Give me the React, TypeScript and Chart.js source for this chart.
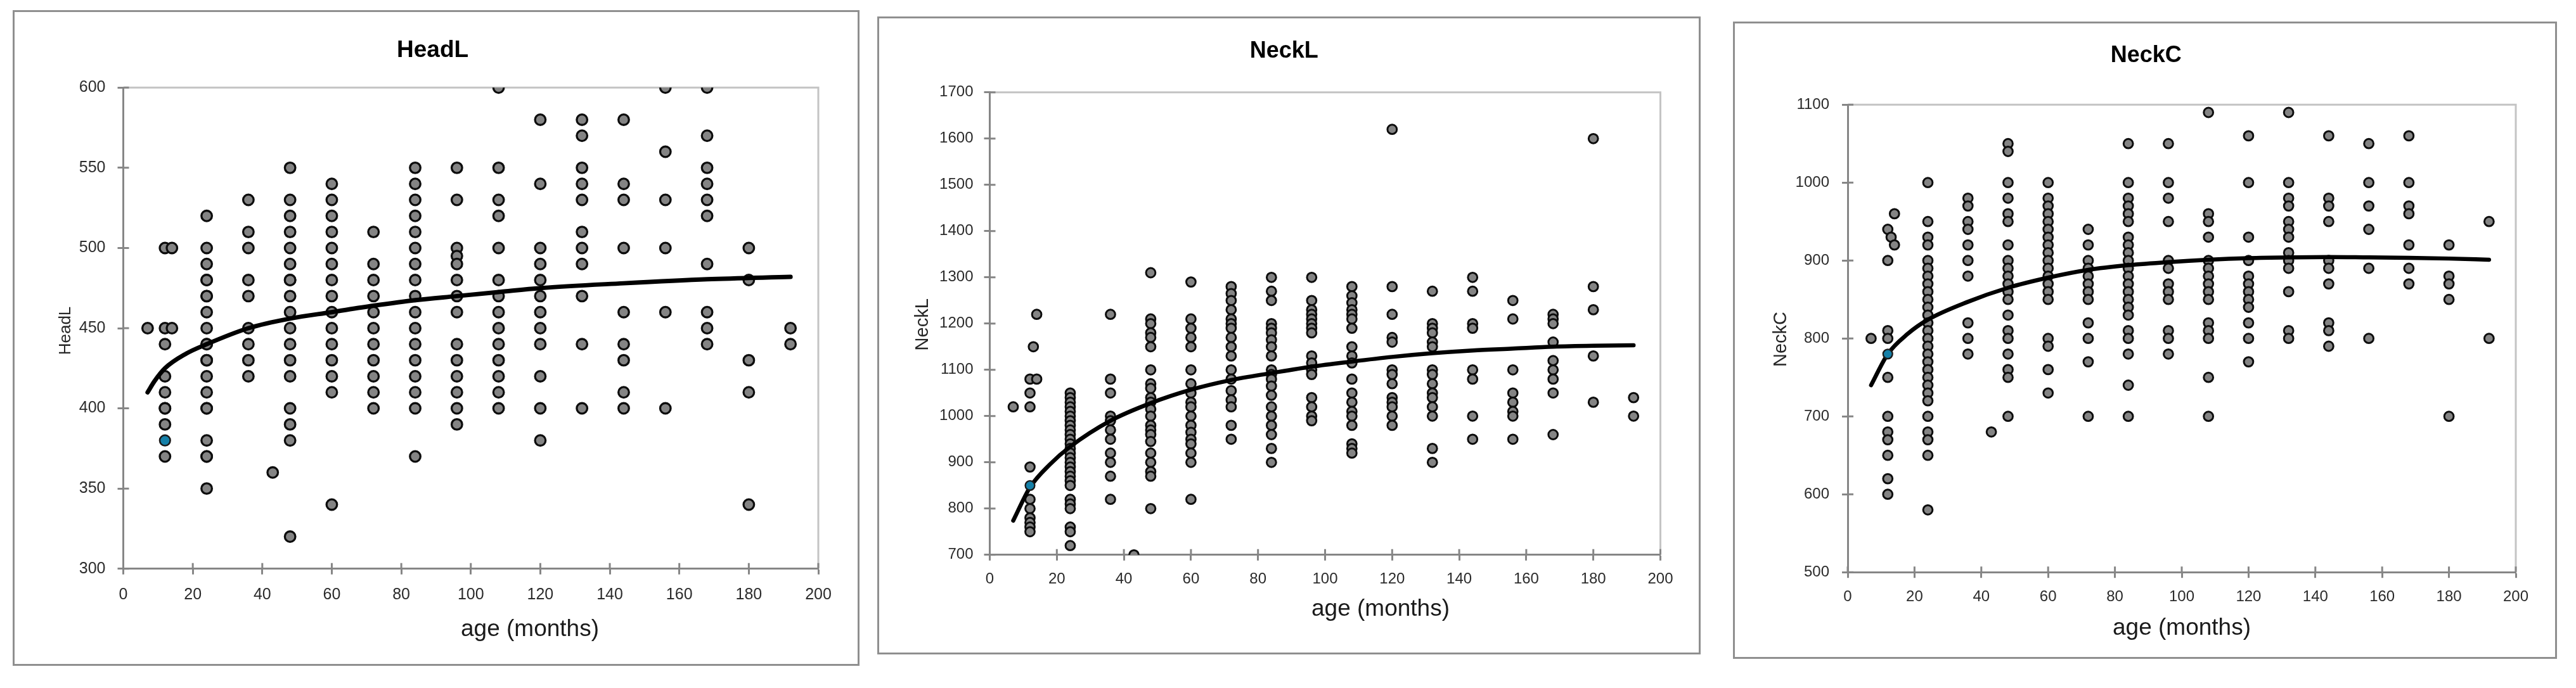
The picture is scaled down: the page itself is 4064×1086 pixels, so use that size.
import React, { useEffect, useRef } from 'react';
import { Chart, registerables } from 'chart.js';

Chart.register(...registerables);

const FONT = '"Liberation Sans", Arial, Helvetica, sans-serif';
const AXIS_GRAY = '#868686';

// ---------------- shared axis ----------------
const AGE_TICKS = [0, 20, 40, 60, 80, 100, 120, 140, 160, 180, 200];

// ---------------- HeadL ----------------
const HEADL_Y_TICKS = [300, 350, 400, 450, 500, 550, 600];
const HEADL_AGES = [7, 12, 14, 24, 36, 43, 48, 60, 72, 84, 96, 108, 120, 132, 144, 156, 168, 180, 192];
const HEADL_VALUES = [
  [450],
  [500, 450, 440, 420, 410, 400, 400, 390, 370],
  [500, 450],
  [520, 500, 490, 480, 480, 470, 470, 460, 450, 440, 440, 430, 430, 420, 410, 400, 400, 380, 370, 370, 350],
  [530, 510, 500, 480, 470, 450, 440, 430, 420],
  [360],
  [550, 530, 520, 510, 500, 490, 480, 480, 470, 460, 450, 440, 430, 420, 400, 390, 380, 320],
  [540, 530, 520, 510, 500, 490, 480, 470, 460, 450, 440, 430, 420, 410, 340],
  [510, 490, 480, 470, 460, 450, 440, 430, 420, 410, 400],
  [550, 540, 530, 520, 510, 500, 490, 480, 470, 460, 450, 440, 430, 420, 410, 400, 370],
  [550, 530, 500, 495, 490, 480, 470, 460, 440, 430, 420, 410, 400, 390],
  [600, 550, 530, 520, 500, 480, 470, 460, 450, 440, 430, 420, 410, 400],
  [580, 540, 500, 490, 480, 470, 460, 450, 440, 420, 400, 380],
  [580, 570, 550, 540, 530, 510, 500, 490, 470, 440, 400],
  [580, 540, 530, 500, 460, 440, 430, 410, 400],
  [600, 560, 530, 500, 460, 400],
  [600, 570, 550, 540, 530, 520, 490, 460, 450, 440],
  [500, 480, 430, 410, 340],
  [450, 440],
];
const HEADL_CURVE_AGES = [7, 9, 12, 18, 24, 36, 48, 60, 72, 84, 96, 108, 120, 144, 168, 192];
const HEADL_CURVE_VALUES = [410, 417, 425, 434, 440, 450, 456, 460, 464, 467.5, 470, 472.5, 475, 478, 480.5, 482];
const HEADL_HIGHLIGHT = [12, 380];

// ---------------- NeckL ----------------
const NECKL_Y_TICKS = [700, 800, 900, 1000, 1100, 1200, 1300, 1400, 1500, 1600, 1700];
const NECKL_AGES = [7, 12, 13, 14, 24, 36, 43, 48, 60, 72, 84, 96, 108, 120, 132, 144, 156, 168, 180, 192];
const NECKL_VALUES = [
  [1020],
  [1080, 1050, 1020, 890, 820, 800, 780, 770, 760, 750],
  [1150],
  [1220, 1080],
  [1050, 1040, 1030, 1020, 1010, 1000, 990, 980, 970, 960, 950, 940, 930, 920, 910, 900, 890, 880, 870, 860, 850, 820, 810, 800, 760, 750, 720],
  [1220, 1080, 1050, 1000, 990, 970, 950, 920, 900, 870, 820],
  [700],
  [1310, 1210, 1200, 1180, 1170, 1150, 1100, 1070, 1060, 1040, 1030, 1015, 1000, 980, 970, 960, 945, 920, 900, 880, 870, 800],
  [1290, 1210, 1190, 1170, 1150, 1100, 1070, 1050, 1030, 1020, 1000, 980, 965, 950, 940, 920, 900, 820],
  [1280, 1265, 1250, 1230, 1210, 1200, 1190, 1170, 1150, 1130, 1100, 1080, 1055, 1035, 1020, 980, 950],
  [1300, 1270, 1250, 1200, 1190, 1180, 1165, 1150, 1130, 1100, 1090, 1080, 1065, 1045, 1020, 1000, 980, 960, 930, 900],
  [1300, 1250, 1230, 1220, 1210, 1200, 1190, 1180, 1130, 1115, 1100, 1090, 1040, 1020, 1000, 990],
  [1280, 1260, 1245, 1230, 1220, 1210, 1190, 1150, 1130, 1115, 1080, 1050, 1030, 1010, 1000, 980, 940, 930, 920],
  [1620, 1280, 1220, 1170, 1160, 1100, 1090, 1070, 1040, 1030, 1020, 1000, 980],
  [1270, 1200, 1190, 1180, 1160, 1150, 1100, 1090, 1070, 1050, 1040, 1020, 1000, 930, 900],
  [1300, 1270, 1200, 1190, 1100, 1080, 1000, 950],
  [1250, 1210, 1100, 1050, 1030, 1010, 1000, 950],
  [1220, 1210, 1200, 1160, 1120, 1100, 1080, 1050, 960],
  [1600, 1280, 1230, 1130, 1030],
  [1040, 1000],
];
const NECKL_CURVE_AGES = [7, 12, 18, 24, 36, 48, 60, 72, 84, 96, 108, 120, 132, 144, 156, 168, 180, 192];
const NECKL_CURVE_VALUES = [774, 846, 896, 934, 990, 1028, 1057, 1078, 1093, 1107, 1118, 1128, 1136, 1142, 1146, 1150, 1152, 1153];
const NECKL_HIGHLIGHT = [12, 850];

// ---------------- NeckC ----------------
const NECKC_Y_TICKS = [500, 600, 700, 800, 900, 1000, 1100];
const NECKC_AGES = [7, 12, 13, 14, 24, 36, 43, 48, 60, 72, 84, 96, 108, 120, 132, 144, 156, 168, 180, 192];
const NECKC_VALUES = [
  [800],
  [940, 900, 810, 800, 750, 700, 680, 670, 650, 620, 600],
  [930],
  [960, 920],
  [1000, 950, 930, 920, 900, 890, 880, 870, 860, 850, 840, 830, 820, 810, 800, 790, 780, 770, 760, 750, 740, 730, 720, 700, 680, 670, 650, 580],
  [980, 970, 950, 940, 920, 900, 880, 820, 800, 780],
  [680],
  [1050, 1040, 1000, 980, 960, 950, 920, 900, 890, 880, 870, 860, 850, 830, 810, 800, 780, 760, 750, 700],
  [1000, 980, 970, 960, 950, 940, 930, 920, 910, 900, 890, 880, 870, 860, 850, 800, 790, 760, 730],
  [940, 920, 900, 890, 880, 870, 860, 850, 820, 800, 770, 700],
  [1050, 1000, 980, 970, 960, 950, 930, 920, 910, 900, 890, 880, 870, 860, 850, 840, 830, 810, 800, 780, 740, 700],
  [1050, 1000, 980, 950, 900, 890, 870, 860, 850, 810, 800, 780],
  [1090, 960, 950, 930, 900, 890, 880, 870, 860, 850, 820, 810, 800, 750, 700],
  [1060, 1000, 930, 900, 880, 870, 860, 850, 840, 820, 800, 770],
  [1090, 1000, 980, 970, 950, 940, 930, 910, 900, 890, 860, 810, 800],
  [1060, 980, 970, 950, 900, 890, 870, 820, 810, 790],
  [1050, 1000, 970, 940, 890, 800],
  [1060, 1000, 970, 960, 920, 890, 870],
  [920, 880, 870, 850, 700],
  [950, 800],
];
const NECKC_CURVE_AGES = [7, 12, 18, 24, 36, 48, 60, 72, 84, 96, 108, 120, 132, 144, 156, 168, 180, 192];
const NECKC_CURVE_VALUES = [740, 780, 806, 824, 847, 865, 878, 888, 894, 898, 901, 903, 904, 904.5, 904, 903.5, 902.5, 901];
const NECKC_HIGHLIGHT = [12, 780];

// ---------------- layout / style (page pixels) ----------------
type Pt = { x: number; y: number };
interface PanelSpec {
  name: string;
  title: string;
  yTitle: string;
  xTitle: string;
  ages: number[];
  values: number[][];
  curveAges: number[];
  curveValues: number[];
  highlight: number[];
  yTicks: number[];
  box: { left: number; top: number; width: number; height: number };
  plot: { left: number; top: number; right: number; bottom: number };
  titlePos: Pt;
  xTitlePos: Pt;
  yTitlePos: Pt;
  tickSize: number;
  yTickPad: number;
  xTickPad: number;
  titleSize: number;
  xTitleSize: number;
  yTitleSize: number;
  pointR: number;
  pointBW: number;
  lineW: number;
}

const BORDER = 3;

const PANELS: PanelSpec[] = [
  {
    name: 'headl', title: 'HeadL', yTitle: 'HeadL', xTitle: 'age (months)',
    ages: HEADL_AGES, values: HEADL_VALUES, curveAges: HEADL_CURVE_AGES, curveValues: HEADL_CURVE_VALUES,
    highlight: HEADL_HIGHLIGHT, yTicks: HEADL_Y_TICKS,
    box: { left: 20, top: 16, width: 1336, height: 1035 },
    plot: { left: 194.5, top: 138.3, right: 1291, bottom: 897.7 },
    titlePos: { x: 682.6, y: 77 }, xTitlePos: { x: 836, y: 994.4 }, yTitlePos: { x: 102, y: 522 },
    tickSize: 25, yTickPad: 19, xTickPad: 17, titleSize: 37, xTitleSize: 37, yTitleSize: 26,
    pointR: 8.3, pointBW: 3.3, lineW: 7,
  },
  {
    name: 'neckl', title: 'NeckL', yTitle: 'NeckL', xTitle: 'age (months)',
    ages: NECKL_AGES, values: NECKL_VALUES, curveAges: NECKL_CURVE_AGES, curveValues: NECKL_CURVE_VALUES,
    highlight: NECKL_HIGHLIGHT, yTicks: NECKL_Y_TICKS,
    box: { left: 1383.5, top: 26.2, width: 1299, height: 1007 },
    plot: { left: 1561, top: 146, right: 2619, bottom: 876 },
    titlePos: { x: 2025.2, y: 78.6 }, xTitlePos: { x: 2177.5, y: 962.6 }, yTitlePos: { x: 1453.3, y: 512.5 },
    tickSize: 24, yTickPad: 17, xTickPad: 15, titleSize: 36, xTitleSize: 37, yTitleSize: 29,
    pointR: 7.4, pointBW: 3, lineW: 6.5,
  },
  {
    name: 'neckc', title: 'NeckC', yTitle: 'NeckC', xTitle: 'age (months)',
    ages: NECKC_AGES, values: NECKC_VALUES, curveAges: NECKC_CURVE_AGES, curveValues: NECKC_CURVE_VALUES,
    highlight: NECKC_HIGHLIGHT, yTicks: NECKC_Y_TICKS,
    box: { left: 2734, top: 33.5, width: 1300, height: 1006 },
    plot: { left: 2915, top: 164.7, right: 3969, bottom: 902.7 },
    titlePos: { x: 3385.7, y: 84.8 }, xTitlePos: { x: 3442, y: 991.7 }, yTitlePos: { x: 2807.9, y: 535 },
    tickSize: 24, yTickPad: 20, xTickPad: 16, titleSize: 36, xTitleSize: 37, yTitleSize: 29,
    pointR: 7.4, pointBW: 3, lineW: 6.5,
  },
];

const decorPlugin = {
  id: 'decor',
  beforeDatasetsDraw(chart: any, _args: any, opts: any) {
    const { ctx, chartArea: a, scales } = chart;
    ctx.save();
    // light plot-area frame (top and right)
    ctx.strokeStyle = '#c4c4c4';
    ctx.lineWidth = 3;
    ctx.beginPath();
    ctx.moveTo(a.left + 1.5, a.top);
    ctx.lineTo(a.right, a.top);
    ctx.lineTo(a.right, a.bottom - 1.5);
    ctx.stroke();
    // inner halves of the crossing tick marks
    ctx.strokeStyle = AXIS_GRAY;
    ctx.lineWidth = 3;
    ctx.beginPath();
    scales.x.ticks.forEach((t: any) => {
      const px = scales.x.getPixelForValue(t.value);
      ctx.moveTo(px, a.bottom);
      ctx.lineTo(px, a.bottom - opts.tickIn);
    });
    scales.y.ticks.forEach((t: any) => {
      const py = scales.y.getPixelForValue(t.value);
      ctx.moveTo(a.left, py);
      ctx.lineTo(a.left + opts.tickIn, py);
    });
    ctx.stroke();
    ctx.restore();
  },
  afterDraw(chart: any, _args: any, opts: any) {
    const { ctx } = chart;
    ctx.save();
    ctx.textAlign = 'center';
    ctx.textBaseline = 'alphabetic';
    // chart title (cap-centred)
    ctx.fillStyle = '#000';
    ctx.font = `bold ${opts.titleSize}px ${FONT}`;
    ctx.fillText(opts.title, opts.titlePos.x, opts.titlePos.y + 0.358 * opts.titleSize);
    // x axis title
    ctx.fillStyle = '#1a1a1a';
    ctx.font = `${opts.xTitleSize}px ${FONT}`;
    ctx.fillText(opts.xTitle, opts.xTitlePos.x, opts.xTitlePos.y + 0.259 * opts.xTitleSize);
    // y axis title (rotated)
    ctx.fillStyle = '#262626';
    ctx.font = `${opts.yTitleSize}px ${FONT}`;
    ctx.translate(opts.yTitlePos.x + 0.36 * opts.yTitleSize, opts.yTitlePos.y);
    ctx.rotate(-Math.PI / 2);
    ctx.fillText(opts.yTitle, 0, 0);
    ctx.restore();
  },
};

const plainNumber = (v: any) => String(v);

function Panel({ spec }: { spec: PanelSpec }) {
  const ref = useRef<HTMLCanvasElement | null>(null);
  const cl = spec.box.left + BORDER;
  const ct = spec.box.top + BORDER;
  const cw = Math.round(spec.box.width - 2 * BORDER);
  const ch = Math.round(spec.box.height - 2 * BORDER);

  useEffect(() => {
    if (!ref.current) return;
    const plotL = spec.plot.left - cl;
    const plotT = spec.plot.top - ct;
    const plotR = spec.plot.right - cl;
    const plotB = spec.plot.bottom - ct;

    const points: Pt[] = [];
    spec.ages.forEach((age, i) => spec.values[i].forEach((v) => points.push({ x: age, y: v })));
    const curve: Pt[] = spec.curveAges.map((age, i) => ({ x: age, y: spec.curveValues[i] }));
    const yMin = spec.yTicks[0];
    const yMax = spec.yTicks[spec.yTicks.length - 1];
    const yStep = spec.yTicks[1] - spec.yTicks[0];

    const tickFont = { family: FONT, size: spec.tickSize };

    const chart = new Chart(ref.current, {
      type: 'scatter',
      data: {
        datasets: [
          {
            label: 'observations',
            data: points,
            pointRadius: spec.pointR,
            pointHoverRadius: spec.pointR,
            pointBackgroundColor: '#848484',
            pointBorderColor: '#0d0d0d',
            pointBorderWidth: spec.pointBW,
            order: 3,
          } as any,
          {
            type: 'line',
            label: 'trend',
            data: curve,
            borderColor: '#000000',
            borderWidth: spec.lineW,
            pointRadius: 0,
            fill: false,
            cubicInterpolationMode: 'monotone',
            borderCapStyle: 'round',
            order: 2,
          } as any,
          {
            label: 'case',
            data: [{ x: spec.highlight[0], y: spec.highlight[1] }],
            pointRadius: spec.pointR,
            pointHoverRadius: spec.pointR,
            pointBackgroundColor: '#1580a8',
            pointBorderColor: '#1a1a1a',
            pointBorderWidth: spec.pointBW * 0.8,
            order: 1,
          } as any,
        ],
      },
      options: {
        responsive: false,
        animation: false,
        devicePixelRatio: 1,
        events: [],
        layout: { padding: { left: 0, top: plotT, right: cw - plotR, bottom: 0 } },
        plugins: {
          legend: { display: false },
          tooltip: { enabled: false },
          title: { display: false },
          decor: {
            tickIn: 9,
            title: spec.title,
            xTitle: spec.xTitle,
            yTitle: spec.yTitle,
            titleSize: spec.titleSize,
            xTitleSize: spec.xTitleSize,
            yTitleSize: spec.yTitleSize,
            titlePos: { x: spec.titlePos.x - cl, y: spec.titlePos.y - ct },
            xTitlePos: { x: spec.xTitlePos.x - cl, y: spec.xTitlePos.y - ct },
            yTitlePos: { x: spec.yTitlePos.x - cl, y: spec.yTitlePos.y - ct },
          },
        } as any,
        scales: {
          x: {
            type: 'linear',
            min: AGE_TICKS[0],
            max: AGE_TICKS[AGE_TICKS.length - 1],
            ticks: {
              stepSize: AGE_TICKS[1] - AGE_TICKS[0],
              font: tickFont,
              color: '#2b2b2b',
              padding: spec.xTickPad,
              maxRotation: 0,
              autoSkip: false,
              callback: plainNumber,
            },
            grid: { drawOnChartArea: false, drawTicks: true, tickLength: 9, tickColor: AXIS_GRAY, tickWidth: 3 },
            border: { display: true, color: AXIS_GRAY, width: 3 },
            afterFit: (s: any) => { s.height = ch - plotB; },
          },
          y: {
            type: 'linear',
            min: yMin,
            max: yMax,
            ticks: {
              stepSize: yStep,
              font: tickFont,
              color: '#2b2b2b',
              padding: spec.yTickPad,
              autoSkip: false,
              callback: plainNumber,
            },
            grid: { drawOnChartArea: false, drawTicks: true, tickLength: 9, tickColor: AXIS_GRAY, tickWidth: 3 },
            border: { display: true, color: AXIS_GRAY, width: 3 },
            afterFit: (s: any) => { s.width = plotL; },
          },
        },
      } as any,
      plugins: [decorPlugin as any],
    });
    return () => chart.destroy();
  }, [spec]);

  return (
    <div
      style={{
        position: 'absolute',
        left: spec.box.left,
        top: spec.box.top,
        width: spec.box.width,
        height: spec.box.height,
        border: `${BORDER}px solid #8f8f8f`,
        boxSizing: 'border-box',
        background: '#fff',
      }}
    >
      <canvas ref={ref} width={cw} height={ch} style={{ display: 'block', width: cw, height: ch }} />
    </div>
  );
}

export default function App() {
  return (
    <div style={{ position: 'absolute', left: 0, top: 0, width: 4064, height: 1086, background: '#fff' }}>
      {PANELS.map((p) => (
        <Panel key={p.name} spec={p} />
      ))}
    </div>
  );
}
